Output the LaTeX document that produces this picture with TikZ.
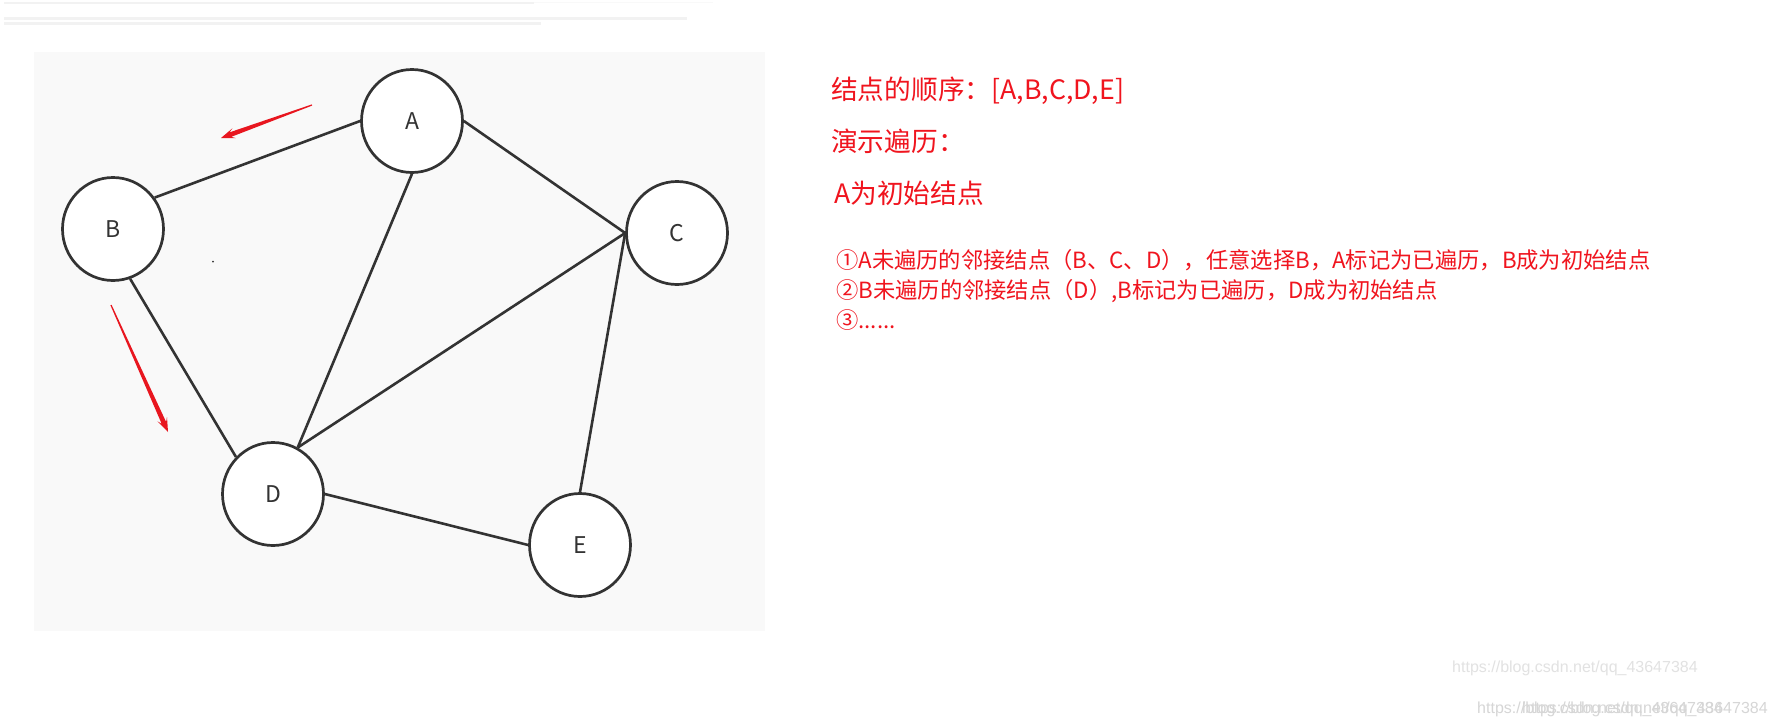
\documentclass[tikz,border=0pt]{standalone}
\usepackage{fontspec}
\setmainfont{Noto Sans CJK SC}
\newfontfamily\wmfont{Liberation Sans}
\usetikzlibrary{calc,shapes.geometric}

\definecolor{edgegray}{HTML}{333333}
\definecolor{bgpanel}{HTML}{F9F9F9}
\definecolor{txtred}{HTML}{F0141E}
\definecolor{arrred}{HTML}{E8161F}
\definecolor{wmgray}{HTML}{D6D6D6}
\definecolor{hdrgray}{HTML}{F2F2F2}

\newcommand{\redarrow}[2]{%
  \coordinate (hj) at ($(#2)!10pt!(#1)$);
  \coordinate (hw) at ($(#2)!14pt!(#1)$);
  \fill[arrred] ($(#1)!0.6pt!90:(#2)$) -- ($(hj)!2.4pt!90:(#2)$) -- ($(hw)!5.2pt!90:(#2)$) -- (#2)
    -- ($(hw)!5.2pt!-90:(#2)$) -- ($(hj)!2.4pt!-90:(#2)$) -- ($(#1)!0.6pt!-90:(#2)$) -- cycle;}

\begin{document}
\begin{tikzpicture}[x=1pt,y=-1pt,
  vertex/.style={ellipse, draw=edgegray, line width=2.7pt, fill=white,
    minimum width=101pt, minimum height=103pt, inner sep=0pt,
    font=\fontsize{23}{26}\selectfont, text=edgegray},
  edge/.style={draw=edgegray, line width=2.6pt},
  bigtext/.style={anchor=base west, inner sep=0pt, text=txtred, font=\fontsize{26.7}{32}\selectfont},
  smalltext/.style={anchor=base west, inner sep=0pt, text=txtred, font=\fontsize{22.3}{27}\selectfont},
  wm/.style={anchor=base west, inner sep=0pt, text=wmgray, font=\wmfont\fontsize{16}{19}\selectfont}]

\useasboundingbox (0,0) rectangle (1774,726);
\fill[white] (0,0) rectangle (1774,726);

% faint header strips
\fill[hdrgray] (4,1.5) rectangle (534,4);
\fill[hdrgray!50] (534,1.5) rectangle (713,3);
\fill[hdrgray] (4,17) rectangle (687,19.5);
\fill[hdrgray] (4,21.5) rectangle (541,24.5);

% panel
\fill[bgpanel] (34,52) rectangle (765,631);

% nodes
\node[vertex] (A) at (412,121) {A};
\node[vertex] (B) at (113,229) {B};
\node[vertex] (C) at (677,233) {C};
\node[vertex] (D) at (273,494) {D};
\node[vertex] (E) at (580,545) {E};

% edges
\draw[edge] (B.37) -- (A.west);
\draw[edge] (A.east) -- (C.west);
\draw[edge] (A.south) -- (D.62);
\draw[edge] (B.-71) -- (D.135);
\draw[edge] (C.west) -- (D.62);
\draw[edge] (C.west) -- (E.north);
\draw[edge] (D.east) -- (E.west);

% stray dot
\fill[edgegray] (213,261.5) circle (1pt);

% red arrows
\coordinate (r1s) at (312,105);
\coordinate (r1e) at (221,138);
\coordinate (r2s) at (111,305);
\coordinate (r2e) at (168,432);
\redarrow{r1s}{r1e}
\redarrow{r2s}{r2e}

% texts
\node[bigtext] (t1) at (831,99) {结点的顺序：[A,B,C,D,E]};
\node[bigtext] (t2) at (831,151) {演示遍历：};
\node[bigtext] (t3) at (834,203) {A为初始结点};
\node[smalltext] (t4) at (836,268) {①A未遍历的邻接结点（B、C、D），任意选择B，A标记为已遍历，B成为初始结点};
\node[smalltext] (t5) at (836,298) {②B未遍历的邻接结点（D）,B标记为已遍历，D成为初始结点};
\node[smalltext] (t6) at (836,328) {③......};

% watermarks
\node[wm, text=wmgray!70] (w1) at (1452,672) {https://blog.csdn.net/qq\_43647384};
\node[wm] (w2) at (1477,713) {https://blog.csdn.net/qq\_43647384};
\node[wm] (w3) at (1522,713) {https://blog.csdn.net/qq\_43647384};
\end{tikzpicture}
\end{document}
